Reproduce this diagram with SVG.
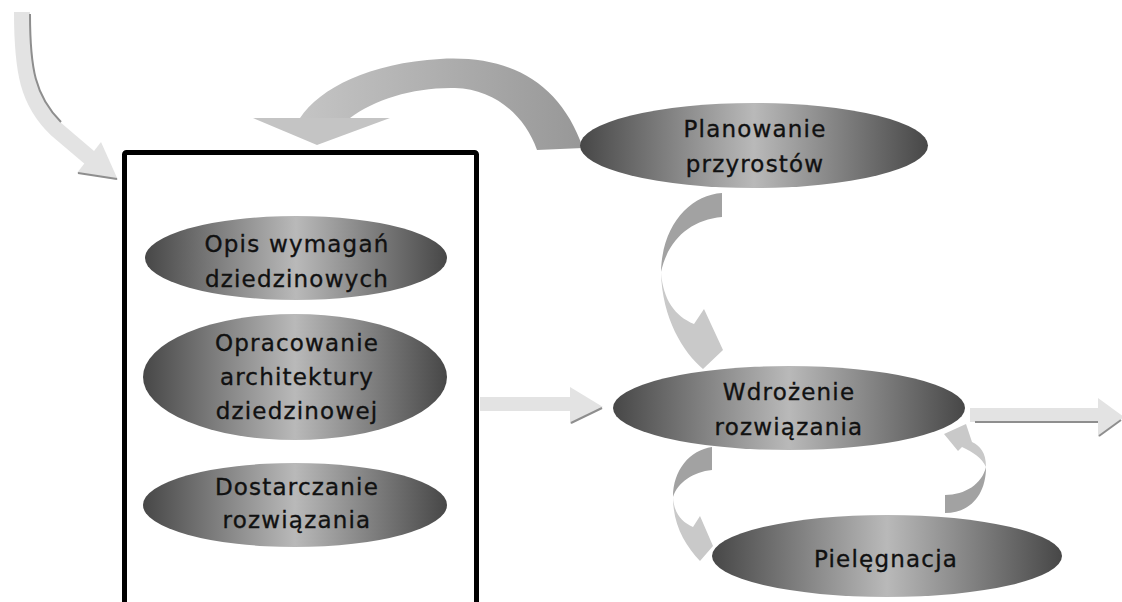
<svg xmlns="http://www.w3.org/2000/svg" width="1122" height="602" viewBox="0 0 1122 602">
<defs>
<linearGradient id="eg" x1="0" y1="0" x2="1" y2="0">
<stop offset="0" stop-color="#474747"/>
<stop offset="0.5" stop-color="#b9b9b9"/>
<stop offset="1" stop-color="#474747"/>
</linearGradient>
<linearGradient id="arch" gradientUnits="userSpaceOnUse" x1="290" y1="0" x2="585" y2="0">
<stop offset="0" stop-color="#c6c6c6"/>
<stop offset="1" stop-color="#979797"/>
</linearGradient>
<style>
.lbl{font-family:"DejaVu Sans","Verdana",sans-serif;font-size:23px;letter-spacing:1.2px;fill:#111111;stroke:#111111;stroke-width:0.35;text-anchor:middle}
.el{fill:url(#eg)}
.dk{fill:#a2a2a2}
.lt{fill:#c9c9c9}
.pale{fill:#e3e3e3}
.sh{stroke:#8e8e8e;stroke-width:2;fill:none}
</style>
</defs>
<rect width="1122" height="602" fill="#ffffff"/>

<g id="connectors">
<!-- top-left incoming arrow -->
<path d="M22,12 C22,72 28,102 56,129 L90,158" stroke="#e3e3e3" stroke-width="16" fill="none"/>
<path d="M30,14 C30,68 35,96 61,122" class="sh"/>
<polygon points="77,173 101,142 118,180" class="pale"/>
<line x1="78" y1="173" x2="117" y2="179" class="sh"/>

<!-- big arch from Planowanie to box -->
<path d="M300,118 C320,88 370,63 440,59 C510,55 560,82 583,148 L537,150 C525,116 495,89 455,88 C415,87 375,99 350,118 Z" fill="url(#arch)"/>
<polygon points="253,118 390,118 317,145" fill="#c4c4c4"/>

<!-- Planowanie -> Wdrozenie -->
<path d="M722,193 C690,195 662,225 661,272 C668,240 690,220 722,217 Z" class="dk"/>
<path d="M661,272 C663,300 675,316 694,324 L704,309 L723,350 L703,369 C683,352 662,318 661,272 Z" class="lt"/>

<!-- box -> Wdrozenie -->
<rect x="480" y="397" width="91" height="14" class="pale"/>
<polygon points="570,387 603,407 570,424" class="pale"/>
<line x1="571" y1="423" x2="602" y2="408" class="sh"/>

<!-- Wdrozenie -> out -->
<rect x="970" y="408" width="130" height="14" class="pale"/>
<line x1="975" y1="422" x2="1098" y2="422" class="sh"/>
<polygon points="1098,398 1124,417 1098,437" class="pale"/>
<line x1="1099" y1="436" x2="1121" y2="420" class="sh"/>

<!-- Wdrozenie -> Pielegnacja -->
<path d="M712,447 C690,450 673,470 673,497 C678,482 693,472 712,470 Z" class="dk"/>
<path d="M673,497 C674,514 682,522 693,527 L700,516 L713,546 L700,561 C685,545 673,525 673,497 Z" class="lt"/>

<!-- Pielegnacja -> Wdrozenie -->
<path d="M945,513 C970,513 986,495 986,467 C982,484 965,495 945,495 Z" class="dk"/>
<path d="M986,467 C986,452 980,446 972,442 L966,424 L944,434 L958,451 L962,447 C973,452 982,458 986,467 Z" class="lt"/>
</g>

<g id="box">
<rect x="124.5" y="152.5" width="352" height="470" rx="2" fill="none" stroke="#000" stroke-width="5"/>
</g>

<g id="opis">
<ellipse cx="296" cy="258" rx="151" ry="42" class="el"/>
<text class="lbl" x="297" y="252">Opis wymagań</text>
<text class="lbl" x="297" y="287">dziedzinowych</text>
</g>

<g id="opracowanie">
<ellipse cx="295" cy="377" rx="152" ry="63" class="el"/>
<text class="lbl" x="297" y="351">Opracowanie</text>
<text class="lbl" x="297" y="385">architektury</text>
<text class="lbl" x="297" y="419">dziedzinowej</text>
</g>

<g id="dostarczanie">
<ellipse cx="295" cy="505" rx="152" ry="42" class="el"/>
<text class="lbl" x="297" y="495">Dostarczanie</text>
<text class="lbl" x="297" y="528">rozwiązania</text>
</g>

<g id="planowanie">
<ellipse cx="754" cy="145.5" rx="174" ry="42.5" class="el"/>
<text class="lbl" x="755" y="137">Planowanie</text>
<text class="lbl" x="755" y="172">przyrostów</text>
</g>

<g id="wdrozenie">
<ellipse cx="789" cy="408" rx="176" ry="42" class="el"/>
<text class="lbl" x="789" y="400">Wdrożenie</text>
<text class="lbl" x="789" y="435">rozwiązania</text>
</g>

<g id="pielegnacja">
<ellipse cx="887" cy="556" rx="175" ry="41" class="el"/>
<text class="lbl" x="886" y="567">Pielęgnacja</text>
</g>
</svg>
